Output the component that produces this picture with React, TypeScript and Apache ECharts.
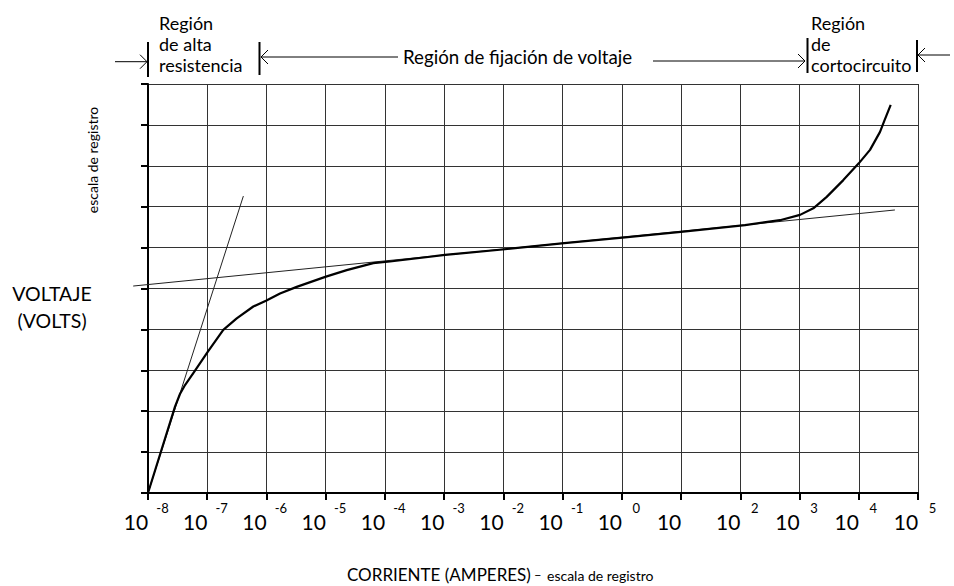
import React, { useEffect, useRef } from "react";
import * as echarts from "echarts";

// log10(current) positions of the x ticks and their exponent labels
const xTickExponents = ["-8", "-7", "-6", "-5", "-4", "-3", "-2", "-1", "0", "", "2", "3", "4", "5"];

// main V-I curve (x: log10 of current, y: voltage in grid units, log scale)
const curveLogI = [-8, -7.544, -7.46, -7.375, -7.235, -6.992, -6.729, -6.502, -6.222, -6.008, -5.771, -5.489, -4.995, -4.645, -4.196, -3.914, -2.986, -1.973, -0.971, 0.053, 1.037, 2.08, 2.67, 3.008, 3.233, 3.459, 3.739, 4.0, 4.19, 4.359, 4.426, 4.539];
const curveV = [0, 2.11, 2.42, 2.64, 2.93, 3.45, 3.99, 4.27, 4.56, 4.7, 4.88, 5.04, 5.29, 5.45, 5.62, 5.66, 5.82, 5.96, 6.11, 6.25, 6.39, 6.55, 6.67, 6.8, 6.96, 7.24, 7.65, 8.06, 8.39, 8.83, 9.08, 9.49];

// thin tangent lines
const flatTangentLogI = [-8.25, 4.61];
const flatTangentV = [5.06, 6.92];
const steepTangentLogI = [-8, -6.39];
const steepTangentV = [0, 7.26];

const FONT = "Lato";

export default function App() {
  const ref = useRef<HTMLDivElement>(null);
  useEffect(() => {
    document.body.style.margin = "0";
    const chart = echarts.init(ref.current!, undefined, { renderer: "svg" });
    const zip = (xs: number[], ys: number[]) => xs.map((x, i) => [x, ys[i]]);
    const lineCol = "#000";
    const arrow = (tipX: number, tipY: number, dir: number) => ({
      type: "polyline",
      shape: { points: [[tipX - 7 * dir, tipY - 7], [tipX, tipY], [tipX - 7 * dir, tipY + 7]] },
      style: { stroke: lineCol, lineWidth: 1, fill: null },
    });
    const hline = (x1: number, x2: number, y: number) => ({
      type: "line",
      shape: { x1, y1: y, x2, y2: y },
      style: { stroke: lineCol, lineWidth: 1 },
    });
    const bar = (x: number, y1: number, y2: number) => ({
      type: "line",
      shape: { x1: x, y1, x2: x, y2 },
      style: { stroke: lineCol, lineWidth: 2 },
    });
    const txt = (x: number, y: number, text: string, fontSize: number, extra: any = {}) => ({
      type: "text",
      x,
      y,
      style: { text, fontSize, fontFamily: FONT, fill: "#000", ...extra },
    });

    chart.setOption({
      animation: false,
      backgroundColor: "#fff",
      grid: { left: 148, right: 36, top: 84, bottom: 93 },
      xAxis: {
        type: "value",
        min: -8,
        max: 5,
        interval: 1,
        axisLine: { onZero: false, lineStyle: { color: "#000", width: 2 } },
        axisTick: { show: true, length: 7, lineStyle: { color: "#000", width: 2 } },
        splitLine: { show: true, lineStyle: { color: "#333", width: 1 } },
        axisLabel: {
          margin: 8,
          color: "#000",
          formatter: (v: number) => {
            const e = xTickExponents[Math.round(v) + 8];
            return `{b|10}{s|${e === "" ? " " : e}}`;
          },
          rich: {
            b: { fontSize: 21, fontFamily: FONT, width: 24, align: "center", lineHeight: 31, verticalAlign: "bottom", color: "#000" },
            s: { fontSize: 13, fontFamily: FONT, width: 19, padding: [0, 0, 0, 5], align: "left", lineHeight: 31, verticalAlign: "top", color: "#000" },
          },
        },
      },
      yAxis: {
        type: "value",
        min: 0,
        max: 10,
        interval: 1,
        axisLine: { show: true, onZero: false, lineStyle: { color: "#000", width: 2 } },
        axisTick: { show: true, length: 7, lineStyle: { color: "#000", width: 2 } },
        axisLabel: { show: false },
        splitLine: { show: true, lineStyle: { color: "#333", width: 1 } },
      },
      series: [
        {
          type: "line",
          data: zip(steepTangentLogI, steepTangentV),
          symbol: "none",
          clip: false,
          lineStyle: { color: "#222", width: 1 },
          silent: true,
        },
        {
          type: "line",
          data: zip(curveLogI, curveV),
          symbol: "none",
          smooth: false,
          clip: false,
          lineStyle: { color: "#000", width: 2.2, join: "round" },
          silent: true,
        },
      ],
    });

    // flat tangent extends past the y axis, so it is drawn through the chart's own scale
    const flatPts = zip(flatTangentLogI, flatTangentV).map((p) =>
      chart.convertToPixel({ gridIndex: 0 }, p) as number[]
    );

    chart.setOption({
      graphic: [
        {
          type: "polyline",
          z: 1,
          shape: { points: flatPts },
          style: { stroke: "#222", lineWidth: 1, fill: null },
        },
        // high resistance region
        hline(115, 147, 61.7),
        arrow(147, 61.7, 1),
        bar(148, 42, 77),
        txt(159, 12, "Región\nde alta\nresistencia", 18, { lineHeight: 21 }),
        bar(259.5, 42, 75),
        // clamping region
        arrow(261, 57, -1),
        hline(261, 398, 57),
        txt(403, 57, "Región de fijación de voltaje", 18.7, { verticalAlign: "middle" }),
        hline(653, 805, 61),
        arrow(805, 61, 1),
        bar(807.5, 38, 73),
        // short-circuit region
        txt(811, 12, "Región\nde\ncortocircuito", 18, { lineHeight: 21 }),
        bar(917, 40, 72),
        arrow(918, 55, -1),
        hline(918, 950, 55),
        // y-axis texts
        {
          type: "text",
          x: 92,
          y: 160,
          rotation: Math.PI / 2,
          style: { text: "escala de registro", fontSize: 14, fontFamily: FONT, fill: "#000", align: "center", verticalAlign: "middle" },
        },
        txt(52, 293, "VOLTAJE", 19.5, { align: "center", verticalAlign: "middle" }),
        txt(52, 320, "(VOLTS)", 19.5, { align: "center", verticalAlign: "middle" }),
        // x-axis texts
        txt(347, 574, "CORRIENTE (AMPERES)", 17, { verticalAlign: "middle" }),
        txt(534, 575, "–", 13, { verticalAlign: "middle" }),
        txt(547, 575, "escala de registro", 14, { verticalAlign: "middle" }),
      ],
    });
    return () => chart.dispose();
  }, []);
  return <div ref={ref} style={{ width: 954, height: 586 }} />;
}
